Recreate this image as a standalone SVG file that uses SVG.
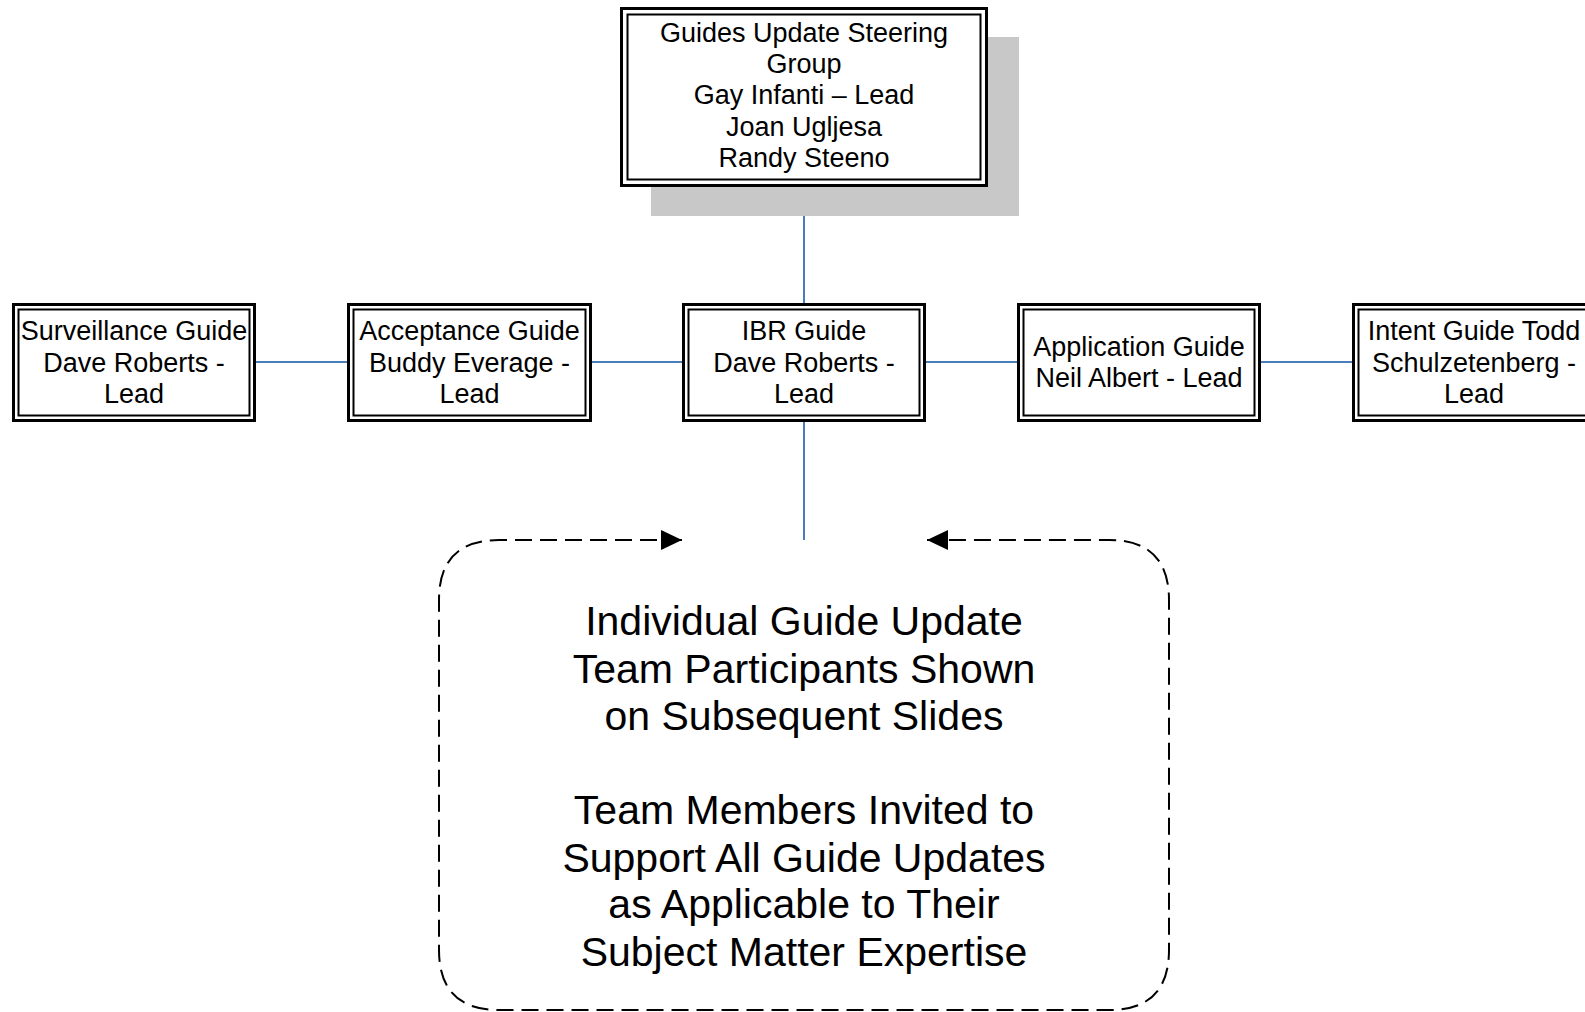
<svg xmlns="http://www.w3.org/2000/svg" width="1585" height="1012" viewBox="0 0 1585 1012">
<style>
  .outer { fill: #ffffff; stroke: #000000; stroke-width: 3; }
  .inner { fill: none; stroke: #000000; stroke-width: 2; }
  .t { font-family: "Liberation Sans", Arial, sans-serif; font-size: 27px; fill: #000000; text-anchor: middle; }
  .big { font-family: "Liberation Sans", Arial, sans-serif; font-size: 41px; fill: #000000; text-anchor: middle; }
  .conn { stroke: #4a7ebb; stroke-width: 2; fill: none; }
  .dash { stroke: #000000; stroke-width: 2; fill: none; stroke-dasharray: 17 8; }
</style>
<defs>
  <marker id="arrow" viewBox="0 0 21 20" refX="21" refY="10" markerWidth="21" markerHeight="20" markerUnits="userSpaceOnUse" orient="auto-start-reverse">
    <path d="M0,0 L21,10 L0,20 z" fill="#000000"/>
  </marker>
</defs>
<rect width="1585" height="1012" fill="#ffffff"/>

<g id="connectors">
  <line class="conn" x1="804" y1="186" x2="804" y2="303"/>
  <line class="conn" x1="256" y1="362" x2="347" y2="362"/>
  <line class="conn" x1="592" y1="362" x2="682" y2="362"/>
  <line class="conn" x1="926" y1="362" x2="1017" y2="362"/>
  <line class="conn" x1="1261" y1="362" x2="1352" y2="362"/>
  <line class="conn" x1="804" y1="422" x2="804" y2="540"/>
  <path class="dash" d="M682,540 L499,540 Q439,540 439,600 L439,950 Q439,1010 499,1010 L1109,1010 Q1169,1010 1169,950 L1169,600 Q1169,540 1109,540 L927,540" marker-start="url(#arrow)" marker-end="url(#arrow)"/>
</g>

<g id="steering">
  <rect x="651" y="37" width="368" height="179" fill="#c8c8c8"/>
  <rect class="outer" x="621.5" y="8.5" width="365" height="177"/>
  <rect class="inner" x="627.5" y="14.5" width="353" height="165"/>
  <text class="t" x="804" y="41.7">Guides Update Steering</text>
  <text class="t" x="804" y="73">Group</text>
  <text class="t" x="804" y="104.2">Gay Infanti – Lead</text>
  <text class="t" x="804" y="135.5">Joan Ugljesa</text>
  <text class="t" x="804" y="166.7">Randy Steeno</text>
</g>

<g id="surveillance">
  <rect class="outer" x="13.5" y="304.5" width="241" height="116"/>
  <rect class="inner" x="18.5" y="309.5" width="231" height="106"/>
  <text class="t" x="134" y="340">Surveillance Guide</text>
  <text class="t" x="134" y="371.5">Dave Roberts -</text>
  <text class="t" x="134" y="402.7">Lead</text>
</g>

<g id="acceptance">
  <rect class="outer" x="348.5" y="304.5" width="242" height="116"/>
  <rect class="inner" x="353.5" y="309.5" width="232" height="106"/>
  <text class="t" x="469.5" y="340">Acceptance Guide</text>
  <text class="t" x="469.5" y="371.5">Buddy Everage -</text>
  <text class="t" x="469.5" y="402.7">Lead</text>
</g>

<g id="ibr">
  <rect class="outer" x="683.5" y="304.5" width="241" height="116"/>
  <rect class="inner" x="688.5" y="309.5" width="231" height="106"/>
  <text class="t" x="804" y="340">IBR Guide</text>
  <text class="t" x="804" y="371.5">Dave Roberts -</text>
  <text class="t" x="804" y="402.7">Lead</text>
</g>

<g id="application">
  <rect class="outer" x="1018.5" y="304.5" width="241" height="116"/>
  <rect class="inner" x="1023.5" y="309.5" width="231" height="106"/>
  <text class="t" x="1139" y="355.5">Application Guide</text>
  <text class="t" x="1139" y="386.7">Neil Albert - Lead</text>
</g>

<g id="intent">
  <rect class="outer" x="1353.5" y="304.5" width="241" height="116"/>
  <rect class="inner" x="1358.5" y="309.5" width="231" height="106"/>
  <text class="t" x="1474" y="340">Intent Guide Todd</text>
  <text class="t" x="1474" y="371.5">Schulzetenberg -</text>
  <text class="t" x="1474" y="402.7">Lead</text>
</g>

<g id="note">
  <text class="big" x="804" y="635">Individual Guide Update</text>
  <text class="big" x="804" y="682.5">Team Participants Shown</text>
  <text class="big" x="804" y="730">on Subsequent Slides</text>
  <text class="big" x="804" y="824">Team Members Invited to</text>
  <text class="big" x="804" y="871.5">Support All Guide Updates</text>
  <text class="big" x="804" y="918">as Applicable to Their</text>
  <text class="big" x="804" y="965.5">Subject Matter Expertise</text>
</g>
</svg>
